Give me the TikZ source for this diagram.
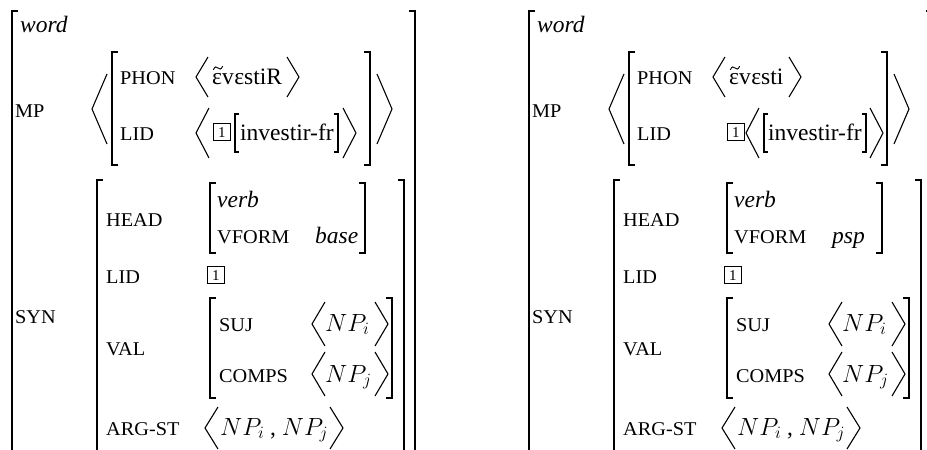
\documentclass[tikz,border=0pt]{standalone}
\usepackage{fontspec}
\setmainfont{Liberation Serif}
\newfontfamily\scf[FakeStretch=1.04]{Liberation Serif}
\usetikzlibrary{calc}
\tikzset{
 txt/.style={anchor=base west, inner sep=0pt, font=\fontsize{23.5}{28}\selectfont},
 lab/.style={anchor=base west, inner sep=0pt, font=\scf\fontsize{19.5}{20}\selectfont},
 brk/.style={line width=1.6pt, line join=miter},
 ang/.style={line width=1.1pt, line join=miter},
 tildestroke/.style={line width=0.9pt, line cap=round},
 tag/.style={draw, line width=0.8pt, inner sep=0pt, minimum width=17pt, minimum height=17pt, anchor=south west, font=\fontsize{15}{15}\selectfont},
}
\newcommand\avmLB[4]{\draw[brk] (#1+#4,#2) -- (#1,#2) -- (#1,#3) -- (#1+#4,#3);}
\newcommand\avmRB[4]{\draw[brk] (#1-#4,#2) -- (#1,#2) -- (#1,#3) -- (#1-#4,#3);}
\newcommand\avmAng[4]{\draw[ang] (#2,#3) -- (#1,{(#3+#4)/2}) -- (#2,#4);}
\newcommand\avmcommon[2]{%
 \avmLB{12}{11}{470}{6}
 \avmRB{415}{11}{470}{6}
 \node[txt] (word) at (20,32) {\itshape word};
 \node[lab] (mp) at (15,117) {MP};
 \node[lab] (syn) at (15,323) {SYN};
 \avmAng{92}{107}{74}{144}
 \avmLB{112}{52}{165}{6}
 \avmRB{370}{52}{165}{6}
 \avmAng{392}{377}{74}{144}
 \node[lab] (phon) at (120,84) {PHON};
 \node[lab] (lid1) at (120,140) {LID};
 \avmAng{196}{208}{57}{97}
 \node[txt] (phonv) at (212,84) {#1};
 \draw[tildestroke] (213.5,69.5) .. controls (215,66.3) and (216.5,66.3) .. (218,68) .. controls (219.5,69.7) and (221,69.7) .. (222.5,66.5);
 \avmLB{97}{180}{470}{6}
 \avmRB{404}{180}{470}{6}
 \node[lab] (head) at (106,226) {HEAD};
 \avmLB{210}{183}{253}{6}
 \avmRB{365}{183}{253}{6}
 \node[txt] (verb) at (217,207) {\itshape verb};
 \node[lab] (vform) at (217,243) {VFORM};
 \node[txt] (vformv) at (315,243) {\itshape #2};
 \node[lab] (lid2) at (106,283) {LID};
 \node[tag] (tag2) at (207,284) {1};
 \node[lab] (val) at (106,355) {VAL};
 \avmLB{210}{298}{398}{6}
 \avmRB{392}{298}{398}{6}
 \node[lab] (suj) at (219,331) {SUJ};
 \avmAng{312}{325}{302}{346}
 \node[txt] (sujv) at (325,331) {$NP_i$};
 \avmAng{388}{375}{302}{346}
 \node[lab] (comps) at (219,382) {COMPS};
 \avmAng{312}{325}{352}{396}
 \node[txt] (compsv) at (325,382) {$NP_j$};
 \avmAng{388}{375}{352}{396}
 \node[lab] (argst) at (106,435) {ARG-ST};
 \avmAng{205}{218}{407}{449}
 \node[txt] (argv) at (220,435) {$NP_i$ , $NP_j$};
 \avmAng{343}{330}{407}{449}
}
\begin{document}
\begin{tikzpicture}[x=1pt,y=-1pt]
\useasboundingbox (0,0) rectangle (927,450);
\clip (0,0) rectangle (927,450);
\begin{scope}[name prefix=L-]
 \avmcommon{ɛv\kern0.5pt ɛstiR}{base}
 \avmAng{299}{287}{57}{97}
 \avmAng{196}{209}{108}{158}
 \node[tag] (tag1) at (213,141) {1};
 \avmLB{235}{114}{152}{4}
 \node[txt] (inv) at (240,140) {investir-fr};
 \avmRB{338}{114}{152}{4}
 \avmAng{356}{343}{108}{158}
\end{scope}
\begin{scope}[xshift=517pt, name prefix=R-]
 \avmcommon{ɛv\kern0.5pt ɛsti}{psp}
 \avmAng{284}{272}{57}{97}
 \node[tag] (tag1) at (210,141) {1};
 \avmAng{229}{242}{108}{158}
 \avmLB{247}{114}{152}{4}
 \node[txt] (inv) at (251,140) {investir-fr};
 \avmRB{349}{114}{152}{4}
 \avmAng{366}{353}{108}{158}
\end{scope}
\end{tikzpicture}
\end{document}
